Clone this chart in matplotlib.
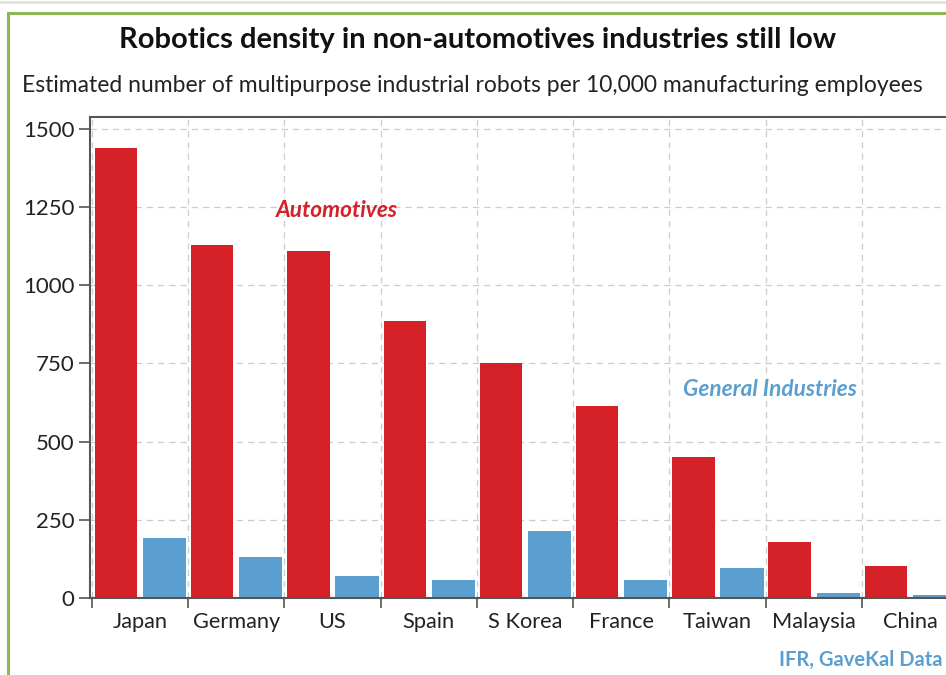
import matplotlib

matplotlib.use("Agg")
import matplotlib.pyplot as plt
import numpy as np
from matplotlib.lines import Line2D
from matplotlib.patches import Rectangle

countries = ["Japan", "Germany", "US", "Spain", "S Korea", "France",
             "Taiwan", "Malaysia", "China"]
automotives = [1438, 1128, 1110, 885, 750, 615, 450, 178, 102]
general = [192, 131, 70, 58, 215, 58, 95, 16, 10]
yticks = [0, 250, 500, 750, 1000, 1250, 1500]

RED = "#d42027"
BLUE = "#5b9fd0"
plt.rcParams["font.family"] = ["Lato", "DejaVu Sans"]

fig = plt.figure(figsize=(9.46, 6.75), dpi=100)
W, H = 946, 675

# outer green frame (runs off the right/bottom edge like the source clip)
fig.patches.append(Rectangle((8 / W, -0.05), 1.2, 1 - 13 / H + 0.05,
                             transform=fig.transFigure, fill=False,
                             ec="#8db75a", lw=2.2))
fig.lines.append(Line2D([0, 1], [1 - 1.5 / H] * 2, transform=fig.transFigure,
                        color="#dde6d2", lw=2))

# axes box: left 90px, right past the edge, 0 at y=598, top at y=117
ax = fig.add_axes([90 / W, 1 - 598 / H, (958 - 90) / W, (598 - 117) / H])
x = np.arange(len(countries))
ax.bar(x - 0.25, automotives, 0.44, color=RED, zorder=2)
ax.bar(x + 0.255, general, 0.45, color=BLUE, zorder=2)

ax.set_xlim(-0.52, 8.5)
ax.set_ylim(0, 1538)
ax.set_yticks(yticks)
ax.set_yticklabels([str(v) for v in yticks], fontsize=16, color="#222222")

# ticks sit on the category boundaries, labels in the middle
ax.set_xticks(np.arange(len(countries) + 1) - 0.5)
ax.set_xticklabels([])
ax.set_xticks(x, minor=True)
ax.set_xticklabels(countries, minor=True, fontsize=15.7, color="#222222")
ax.tick_params(axis="x", which="minor", length=0, pad=10)
ax.tick_params(axis="x", which="major", length=7, width=1.2, color="#555555")
ax.tick_params(axis="y", length=8, width=1.2, color="#555555", pad=3)

ax.grid(True, which="major", ls=(0, (5, 4)), color="#cccccc", lw=0.9, zorder=0)
for s in ["left", "top", "right", "bottom"]:
    ax.spines[s].set_color("#555555")
    ax.spines[s].set_linewidth(1.5)

ax.text(2.05, 1238, "Automotives", color=RED, fontsize=16.3, fontweight="bold",
        style="italic", ha="center", va="center")
ax.text(6.55, 668, "General Industries", color=BLUE, fontsize=16.3,
        fontweight="bold", style="italic", ha="center", va="center")

fig.text(478 / W, 1 - 40 / H,
         "Robotics density in non-automotives industries still low",
         fontsize=21, fontweight="bold", ha="center", va="center",
         color="#111111")
fig.text(22 / W, 1 - 85 / H,
         "Estimated number of multipurpose industrial robots per 10,000 "
         "manufacturing employees",
         fontsize=16.5, ha="left", va="center", color="#222222")
# source line: the reference clips it at the edge, keep it whole here
fig.text(942 / W, 1 - 660 / H, "IFR, GaveKal Data", color=BLUE,
         fontsize=14.5, fontweight="bold", ha="right", va="center")

fig.savefig("out.png", dpi=100)
